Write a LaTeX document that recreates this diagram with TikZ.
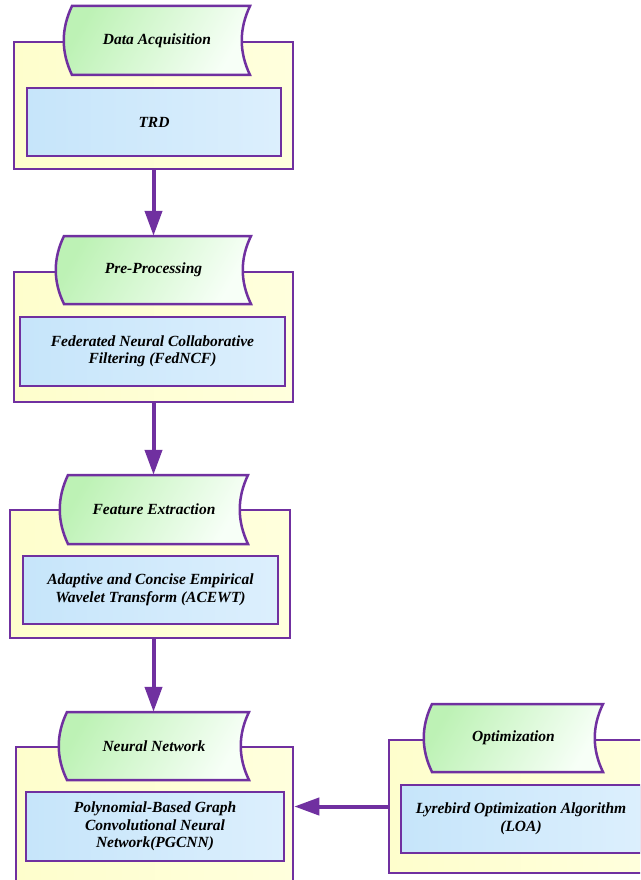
\documentclass[tikz,border=0pt]{standalone}
\usepackage{fontspec}
\setmainfont{Liberation Serif}
\usetikzlibrary{arrows.meta,calc}
\definecolor{pur}{HTML}{7030A0}
\definecolor{yel1}{HTML}{FEFECC}
\definecolor{yel2}{HTML}{FFFFDD}
\definecolor{grn1}{HTML}{BDF2B5}
\definecolor{grn2}{HTML}{F7FFF7}
\definecolor{blu1}{HTML}{C6E5FA}
\definecolor{blu2}{HTML}{DCEFFD}
\tikzset{
  outerbox/.style={draw=pur, line width=2.5pt, left color=yel1, right color=yel2, rectangle, inner sep=0pt},
  tabfill/.style={draw=pur, line width=2.5pt, left color=grn1, right color=grn2, shading angle=60},
  tabtext/.style={rectangle, inner sep=0pt, font=\bfseries\itshape\fontsize{15.5}{17.5}\selectfont, align=center},
  bluebox/.style={draw=pur, line width=2.5pt, left color=blu1, right color=blu2, rectangle, inner sep=0pt,
    font=\bfseries\itshape\fontsize{15.5}{17.5}\selectfont, align=center},
  arr/.style={draw=pur, line width=4pt, -{Triangle[length=25pt,width=17pt]}}
}
% outer box: name, left, right, top, bottom
\newcommand\obox[5]{\node[outerbox, minimum width={#3-#2}, minimum height={#5-#4}] (#1) at ({(#2+#3)/2},{(#4+#5)/2}) {};}
% tab: name, left, right, top, bottom, text
\newcommand\tabnode[6]{%
  \path[tabfill] (#2,#4) -- (#3,#4)
    .. controls (#3-11,{(2*#4+#5)/3}) and (#3-11,{(#4+2*#5)/3}) .. (#3,#5)
    -- (#2,#5)
    .. controls (#2-11,{(#4+2*#5)/3}) and (#2-11,{(2*#4+#5)/3}) .. (#2,#4) -- cycle;
  \node[tabtext, minimum width={#3-#2}, minimum height={#5-#4}] (#1) at ({(#2+#3)/2-4},{(#4+#5)/2}) {#6};}
% blue box: name, left, right, top, bottom, text
\newcommand\bbox[6]{\node[bluebox, minimum width={#3-#2}, minimum height={#5-#4}] (#1) at ({(#2+#3)/2},{(#4+#5)/2}) {#6};}
\begin{document}
\begin{tikzpicture}[x=1pt,y=-1pt]
\useasboundingbox (0,0) rectangle (640,880);
\clip (0,0) rectangle (640,880);
\fill[white] (0,0) rectangle (640,880);

% Block 1
\obox{ob1}{14}{293}{42}{169}
\tabnode{t1}{72}{250}{6}{75}{Data Acquisition}
\bbox{b1}{27}{281}{88}{156}{TRD}

% Block 2
\obox{ob2}{14}{293}{272}{402}
\tabnode{t2}{64}{251}{236}{304}{Pre-Processing}
\bbox{b2}{20}{285}{317}{386}{Federated Neural Collaborative\\Filtering (FedNCF)}

% Block 3
\obox{ob3}{10}{290}{510}{638}
\tabnode{t3}{68}{248}{475}{544}{Feature Extraction}
\bbox{b3}{23}{278}{556}{624}{Adaptive and Concise Empirical\\Wavelet Transform (ACEWT)}

% Block 4
\obox{ob4}{16}{293}{747}{886}
\tabnode{t4}{67}{249}{712}{780}{Neural Network}
\bbox{b4}{26}{284}{792}{861}{Polynomial-Based Graph\\Convolutional Neural\\Network(PGCNN)}

% Block 5
\obox{ob5}{389}{652}{740}{873}
\tabnode{t5}{432}{603}{704}{772}{Optimization}
\bbox{b5}{401}{641}{785}{853}{Lyrebird Optimization Algorithm\\(LOA)}

% Arrows
\draw[arr] (ob1.south) -- (ob1.south |- t2.north);
\draw[arr] (ob2.south) -- (ob2.south |- t3.north);
\draw[arr] (ob1.south |- ob3.south) -- (ob1.south |- t4.north);
\draw[arr] (ob5.west) -- (ob5.west -| ob4.east);
\end{tikzpicture}
\end{document}
